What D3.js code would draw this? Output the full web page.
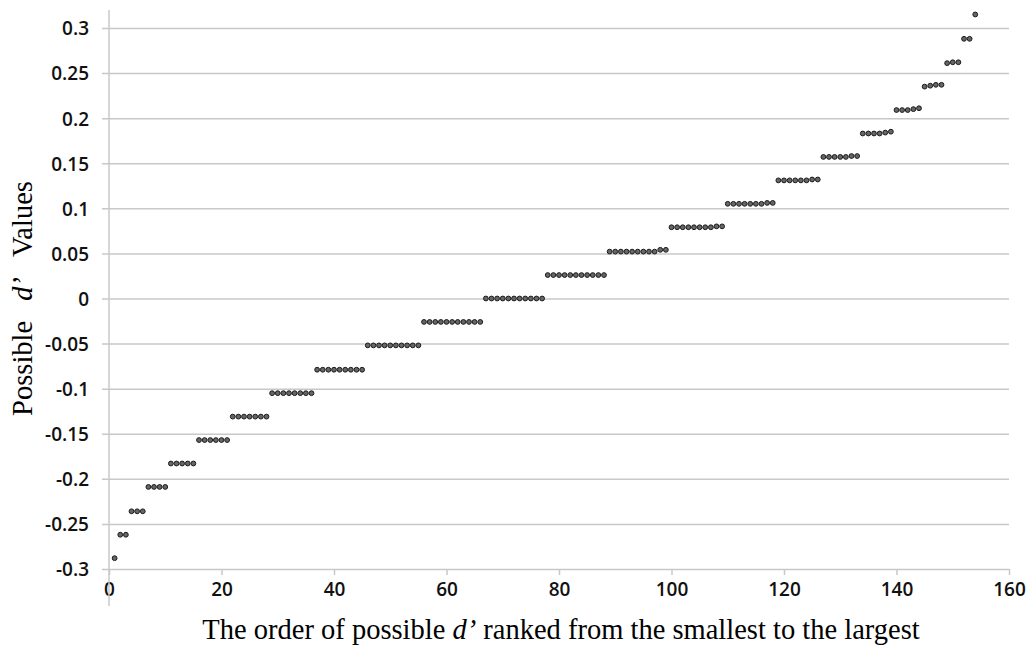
<!DOCTYPE html>
<html>
<head>
<meta charset="utf-8">
<script src="https://cdn.jsdelivr.net/npm/d3@7"></script>
<style>
  body { margin: 0; background: #fff; }
  .tick text { font-family: "Open Sans", "Liberation Sans", sans-serif; font-size: 19px; font-weight: 600; fill: #111; }
  .axis-title { font-family: "Liberation Serif", "DejaVu Serif", serif; font-size: 28.5px; fill: #000; }
</style>
</head>
<body>
<div class="dprime-chart"></div>
<script>
const WIDTH = 1029,
    HEIGHT = 646;

// possible d' values, in rank order (rank = position + 1)
const dValues = [
    -0.288,
    -0.262, -0.262,
    -0.236, -0.236, -0.236,
    -0.209, -0.209, -0.209, -0.209,
    -0.183, -0.183, -0.183, -0.183, -0.183,
    -0.157, -0.157, -0.157, -0.157, -0.157, -0.157,
    -0.131, -0.131, -0.131, -0.131, -0.131, -0.131, -0.131,
    -0.105, -0.105, -0.105, -0.105, -0.105, -0.105, -0.105, -0.105,
    -0.079, -0.079, -0.079, -0.079, -0.079, -0.079, -0.079, -0.079, -0.079,
    -0.052, -0.052, -0.052, -0.052, -0.052, -0.052, -0.052, -0.052, -0.052, -0.052,
    -0.026, -0.026, -0.026, -0.026, -0.026, -0.026, -0.026, -0.026, -0.026, -0.026, -0.026,
    0, 0, 0, 0, 0, 0, 0, 0, 0, 0, 0,
    0.026, 0.026, 0.026, 0.026, 0.026, 0.026, 0.026, 0.026, 0.026, 0.026, 0.026,
    0.052, 0.052, 0.052, 0.052, 0.052, 0.052, 0.052, 0.052, 0.052, 0.054, 0.054,
    0.079, 0.079, 0.079, 0.079, 0.079, 0.079, 0.079, 0.079, 0.080, 0.080,
    0.105, 0.105, 0.105, 0.105, 0.105, 0.105, 0.105, 0.106, 0.106,
    0.131, 0.131, 0.131, 0.131, 0.131, 0.131, 0.132, 0.132,
    0.157, 0.157, 0.157, 0.157, 0.157, 0.158, 0.158,
    0.183, 0.183, 0.183, 0.183, 0.184, 0.185,
    0.209, 0.209, 0.209, 0.210, 0.211,
    0.235, 0.236, 0.237, 0.237,
    0.261, 0.262, 0.262,
    0.288, 0.288,
    0.315
];

const xTicks = [0, 20, 40, 60, 80, 100, 120, 140, 160];
const yTicks = [-0.3, -0.25, -0.2, -0.15, -0.1, -0.05, 0, 0.05, 0.1, 0.15, 0.2, 0.25, 0.3];

const margin = { left: 109, right: 20, top: 28, bottom: 77 };

function createSVG() {
    return d3.select(".dprime-chart")
        .append("svg")
        .attr("width", WIDTH)
        .attr("height", HEIGHT);
}

const svg = createSVG();

const x = d3.scaleLinear().domain([0, 160]).range([margin.left, 1009]);
const y = d3.scaleLinear().domain([-0.3, 0.3]).range([HEIGHT - margin.bottom, margin.top]);

// horizontal gridlines + y axis ticks (plain hyphen minus, like the original)
const yAxis = svg.append("g")
    .attr("transform", `translate(${margin.left},0)`)
    .call(d3.axisLeft(y).tickValues(yTicks).tickSize(-(x(160) - margin.left)).tickSizeOuter(0)
        .tickFormat(d => String(+d.toFixed(2))));
yAxis.select(".domain").remove();
yAxis.selectAll(".tick line")
    .attr("x1", -7)
    .attr("stroke", "#c8c8c8")
    .attr("stroke-width", 1.5);
yAxis.selectAll(".tick text").attr("x", -20).attr("dy", "0.36em");

// x axis ticks (drawn along the -0.3 line)
const xAxis = svg.append("g")
    .attr("transform", `translate(0,${y(-0.3)})`)
    .call(d3.axisBottom(x).tickValues(xTicks).tickSize(6).tickSizeOuter(0));
xAxis.select(".domain").remove();
xAxis.selectAll(".tick line").attr("stroke", "#c8c8c8").attr("stroke-width", 1.5);
xAxis.selectAll(".tick text").attr("y", 14);

// vertical axis line
svg.append("line")
    .attr("x1", x(0)).attr("x2", x(0))
    .attr("y1", 10).attr("y2", 606)
    .attr("stroke", "#c8c8c8")
    .attr("stroke-width", 1.5);

// points
svg.append("g")
    .selectAll("circle")
    .data(dValues)
    .join("circle")
    .attr("cx", (d, i) => x(i + 1))
    .attr("cy", d => y(d))
    .attr("r", 2.4)
    .attr("fill", "#666")
    .attr("stroke", "#1a1a1a")
    .attr("stroke-width", 1);

// axis titles
const xTitle = svg.append("text")
    .attr("class", "axis-title")
    .attr("x", 561)
    .attr("y", 639)
    .attr("text-anchor", "middle");
xTitle.append("tspan").text("The order of possible ");
xTitle.append("tspan").attr("font-style", "italic").text("d’");
xTitle.append("tspan").text(" ranked from the smallest to the largest");

const yTitle = svg.append("text")
    .attr("class", "axis-title")
    .attr("font-size", 26)
    .attr("transform", `translate(32,${y(0)}) rotate(-90)`)
    .attr("text-anchor", "middle");
yTitle.append("tspan").text("Possible");
yTitle.append("tspan").attr("dx", 20).attr("font-style", "italic").text("d’");
yTitle.append("tspan").attr("dx", 20).text("Values");
</script>
</body>
</html>
